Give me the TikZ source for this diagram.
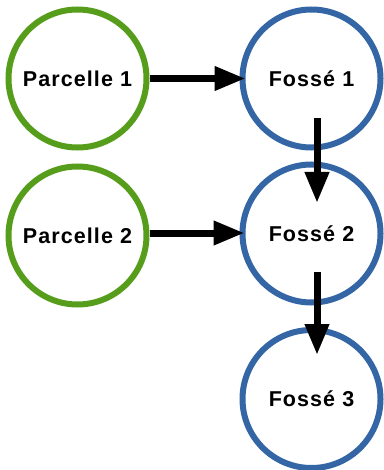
\documentclass[tikz,border=0pt]{standalone}
\usepackage{fontspec}
\newfontfamily\labfont[LetterSpace=5]{Liberation Sans}
\usetikzlibrary{arrows.meta,calc}
\definecolor{pgreen}{RGB}{87,157,28}
\definecolor{fblue}{RGB}{52,101,164}
\tikzset{
  blob/.style={circle,draw,line width=6pt,minimum size=138pt,inner sep=0pt,fill=white,
    font=\labfont\bfseries\fontsize{21.5}{24}\selectfont},
  parc/.style={blob,draw=pgreen},
  fosse/.style={blob,draw=fblue},
  flow/.style={line width=7pt,-{Triangle[length=31pt,width=23pt]}}
}
\begin{document}
\begin{tikzpicture}[x=1pt,y=-1pt]
\useasboundingbox (0,0) rectangle (383,470);
\node[parc] (p1) at (77.5,78.5) {Parcelle 1};
\node[parc] (p2) at (77.5,235.5) {Parcelle 2};
\node[fosse] (f1) at (311.5,78.5) {Fossé 1};
\node[fosse] (f2) at (311.5,233.5) {Fossé 2};
\node[fosse] (f3) at (311.5,399) {Fossé 3};
\coordinate (e1) at ($(f1.west)+(6,0)$);
\coordinate (s2) at (p2.east |- 0,233);
\coordinate (e2) at ($(f2.west)+(5,-0.5)$);
\draw[flow] (p1.east) -- (e1);
\draw[flow] (s2) -- (e2);
\coordinate (a1) at ($(f1.center)+(5.5,39.5)$);
\coordinate (b1) at ($(f2.center)+(5.5,-30.5)$);
\coordinate (a2) at ($(f2.center)+(5.5,38.5)$);
\coordinate (b2) at ($(f3.center)+(5.5,-44)$);
\draw[flow] (a1) -- (b1);
\draw[flow] (a2) -- (b2);
\end{tikzpicture}
\end{document}
